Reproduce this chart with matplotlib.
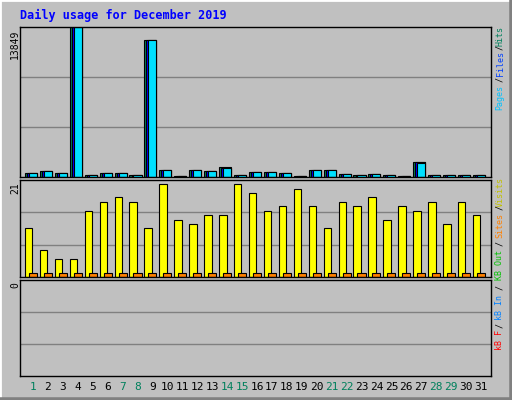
import matplotlib
matplotlib.use("Agg")
import matplotlib.pyplot as plt
from matplotlib.patches import Rectangle

days = list(range(1, 32))
hits = [410, 600, 410, 13849, 220, 410, 410, 220, 12650, 690, 100, 690, 600, 880, 220, 500,
        500, 410, 100, 690, 690, 310, 220, 310, 220, 100, 1350, 220, 220, 220, 220]
files = [400, 590, 400, 13849, 210, 400, 400, 210, 12650, 680, 90, 680, 590, 870, 210, 490,
         490, 400, 90, 680, 680, 300, 210, 300, 210, 90, 1340, 210, 210, 210, 210]
pages = [390, 580, 390, 13849, 200, 390, 390, 200, 12650, 670, 80, 670, 580, 860, 200, 480,
         480, 390, 80, 670, 670, 290, 200, 290, 200, 80, 1330, 200, 200, 200, 200]
visits = [11, 6, 4, 4, 15, 17, 18, 17, 11, 21, 13, 12, 14, 14, 21, 19,
          15, 16, 20, 16, 11, 17, 16, 18, 13, 16, 15, 17, 12, 17, 14]
sites = [1] * 31
weekend = [1, 7, 8, 14, 15, 21, 22, 28, 29]
hits_max = 13849
visits_max = 21

W, H = 512, 400
fig = plt.figure(figsize=(W / 100, H / 100), dpi=100)
fig.patch.set_facecolor("#c0c0c0")
fig.add_artist(plt.Line2D([0, 0], [0, 1], color="white", lw=2, transform=fig.transFigure))
fig.add_artist(plt.Line2D([0, 1], [1, 1], color="white", lw=2, transform=fig.transFigure))
fig.add_artist(plt.Line2D([1, 1], [0, 1], color="#808080", lw=4, transform=fig.transFigure))
fig.add_artist(plt.Line2D([0, 1], [0, 0], color="#808080", lw=4, transform=fig.transFigure))

def ax_px(x0, y0, x1, y1):
    return fig.add_axes([x0 / W, 1 - y1 / H, (x1 - x0) / W, (y1 - y0) / H])

XL = (0.13, 31.67)
mono = "DejaVu Sans Mono"

def setup(ax, ymax):
    ax.set_facecolor("#c0c0c0")
    ax.set_xlim(*XL)
    ax.set_ylim(0, ymax)
    for f in (1 / 3, 2 / 3):
        ax.axhline(ymax * f, color="#808080", lw=1, zorder=0)
    ax.set_xticks([]); ax.set_yticks([])
    for s in ax.spines.values():
        s.set_color("black"); s.set_linewidth(1)

ax1 = ax_px(20, 27, 491, 177)
setup(ax1, hits_max)
for d, h, f, p in zip(days, hits, files, pages):
    ax1.add_patch(Rectangle((d - 0.54, 0), 0.81, h, fc="#00805c", ec="black", lw=0.8))
    ax1.add_patch(Rectangle((d - 0.40, 0), 0.67, f, fc="#0000ff", ec="black", lw=0.8))
    ax1.add_patch(Rectangle((d - 0.27, 0), 0.54, p, fc="#00e0ff", ec="black", lw=0.8))

ax2 = ax_px(20, 180, 491, 277)
setup(ax2, visits_max * 1.045)
for d, v, s in zip(days, visits, sites):
    ax2.add_patch(Rectangle((d - 0.54, 0), 0.5, v, fc="#ffff00", ec="black", lw=0.8))
    ax2.add_patch(Rectangle((d - 0.27, 0), 0.54, s, fc="#ff8000", ec="black", lw=0.8))

ax3 = ax_px(20, 280, 491, 376)
setup(ax3, 1)
for d in days:
    ax3.text(d, -0.06, str(d), transform=ax3.transData,
             ha="center", va="top", fontsize=8, family=mono,
             color="#00805c" if d in weekend else "black")

fig.text(20 / W, 1 - 15 / H, "Daily usage for December 2019", color="#0000ff",
         fontsize=8.5, family=mono, fontweight="bold", va="center", ha="left")
fig.text(15 / W, 1 - 30 / H, str(hits_max), rotation=90, fontsize=7, family=mono,
         ha="center", va="top")
fig.text(15 / W, 1 - 182 / H, str(visits_max), rotation=90, fontsize=7, family=mono,
         ha="center", va="top")
fig.text(15 / W, 1 - 282 / H, "0", rotation=90, fontsize=7, family=mono,
         ha="center", va="top")

side = [("Hits", 36, "#00805c"), ("/", 47, "black"), ("Files", 64, "#0040ff"),
        ("/", 80, "black"), ("Pages", 97, "#00c0ff"),
        ("Visits", 192, "#c0c000"), ("/", 208, "black"), ("Sites", 226, "#ff8000"),
        ("/", 243, "black"), ("KB Out", 265, "#00c000"), ("/", 287, "black"),
        ("kB In", 307, "#0080ff"), ("/", 325, "black"), ("kB F", 340, "#ff0000")]
for t, y, c in side:
    fig.text(500 / W, 1 - y / H, t, rotation=90, color=c, fontsize=6, family=mono,
             ha="center", va="center")

fig.savefig("out.png", dpi=100, facecolor=fig.get_facecolor())
